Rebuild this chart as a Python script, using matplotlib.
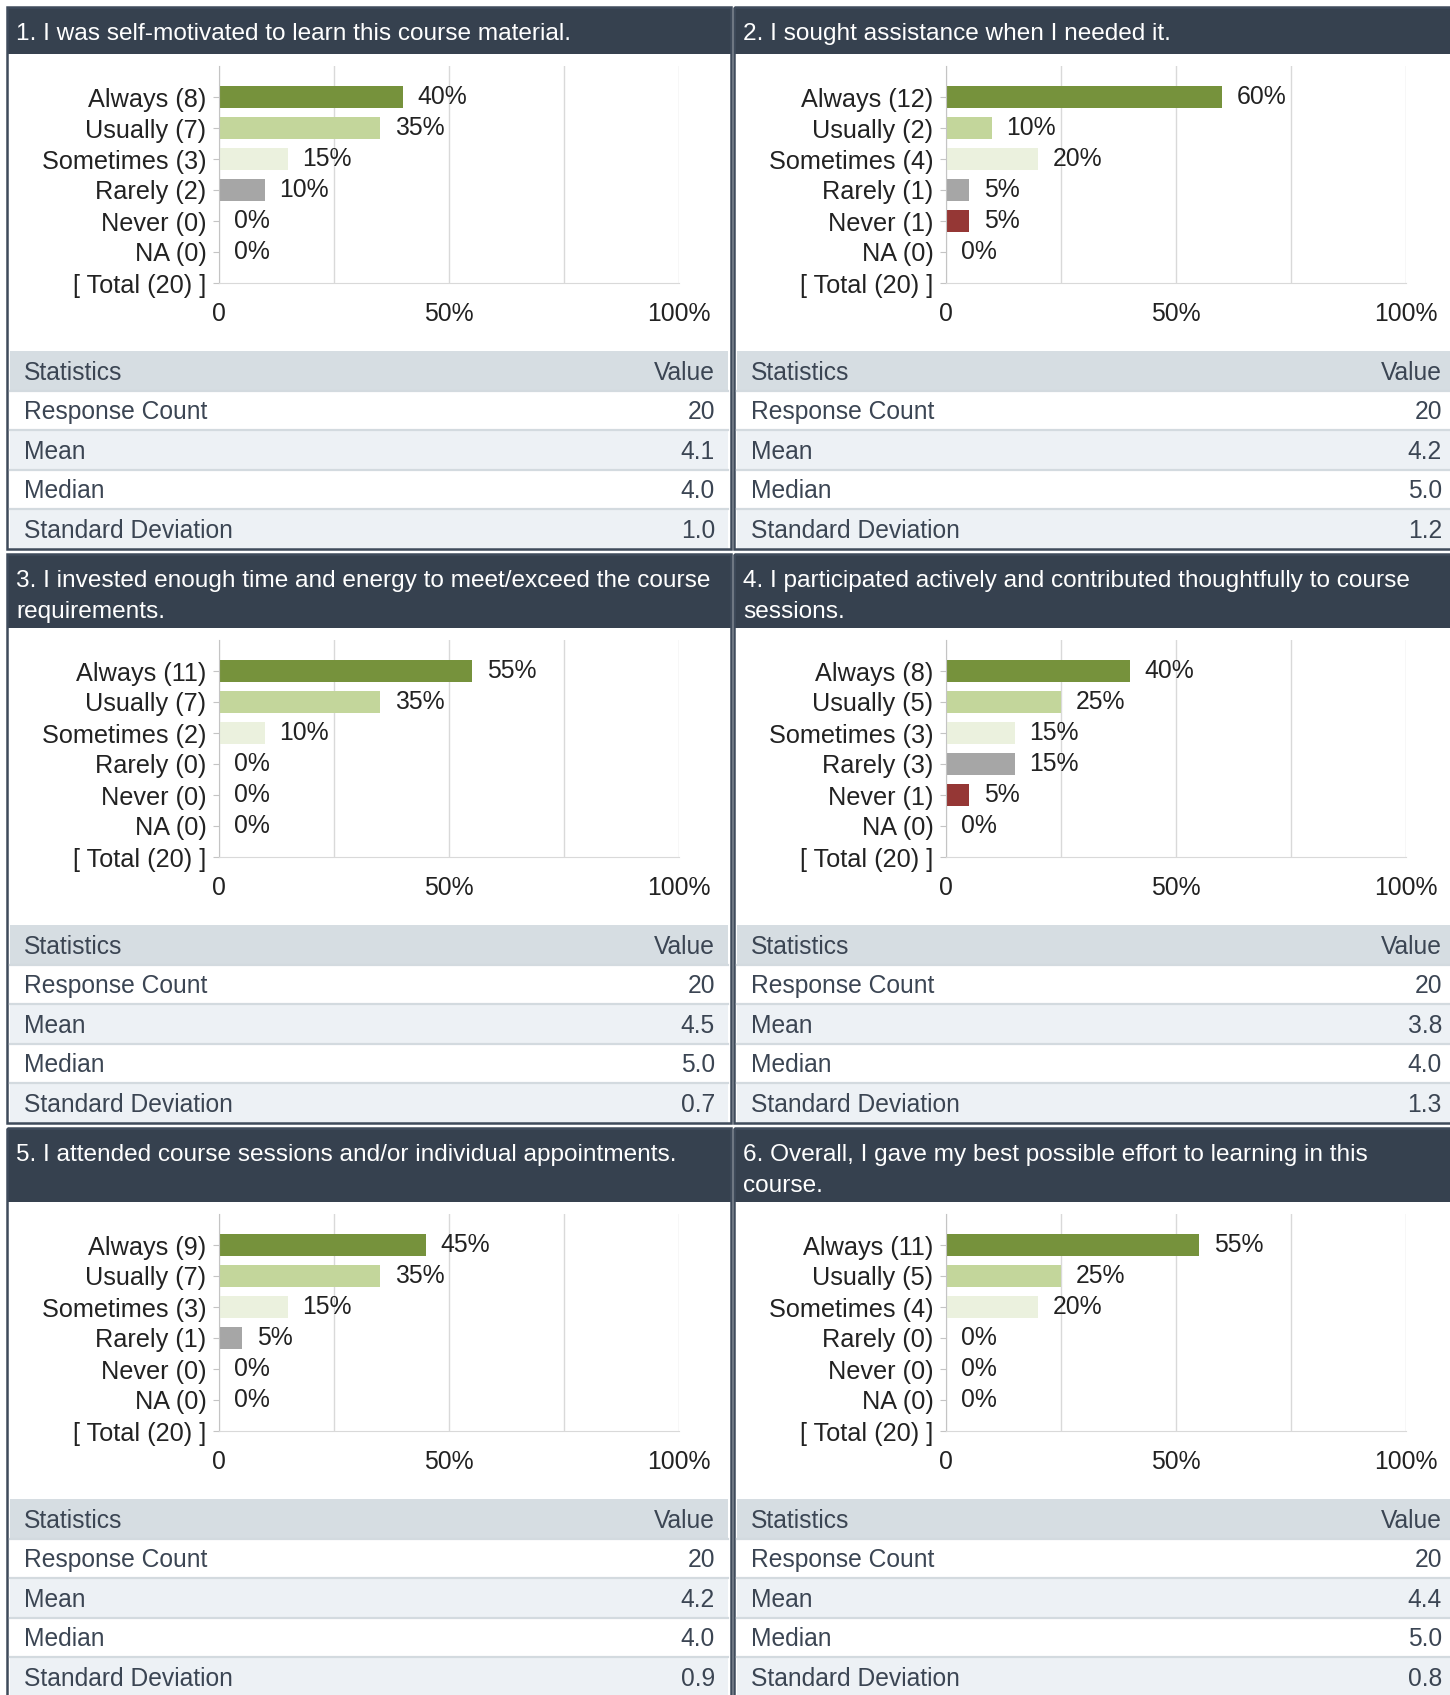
import matplotlib
matplotlib.use("Agg")
import matplotlib.pyplot as plt
from matplotlib.patches import Rectangle

plt.rcParams["font.family"] = ["Liberation Sans", "DejaVu Sans"]

# ---------------------------------------------------------
# Datos de la encuesta
# ---------------------------------------------------------
questions = [
    "1. I was self-motivated to learn this course material.",
    "2. I sought assistance when I needed it.",
    "3. I invested enough time and energy to meet/exceed the course\nrequirements.",
    "4. I participated actively and contributed thoughtfully to course\nsessions.",
    "5. I attended course sessions and/or individual appointments.",
    "6. Overall, I gave my best possible effort to learning in this\ncourse.",
]
answers = ["Always", "Usually", "Sometimes", "Rarely", "Never", "NA"]
counts = [
    [8, 7, 3, 2, 0, 0],
    [12, 2, 4, 1, 1, 0],
    [11, 7, 2, 0, 0, 0],
    [8, 5, 3, 3, 1, 0],
    [9, 7, 3, 1, 0, 0],
    [11, 5, 4, 0, 0, 0],
]
totals = [20, 20, 20, 20, 20, 20]
stat_names = ["Response Count", "Mean", "Median", "Standard Deviation"]
response_count = ["20", "20", "20", "20", "20", "20"]
means = ["4.1", "4.2", "4.5", "3.8", "4.2", "4.4"]
medians = ["4.0", "5.0", "5.0", "4.0", "4.0", "5.0"]
std_devs = ["1.0", "1.2", "0.7", "1.3", "0.9", "0.8"]

bar_colors = ["#76923c", "#c3d69b", "#ebf1de", "#a6a6a6", "#953735", "#4f81bd"]

# ---------------------------------------------------------
# Layout (pixeles)
# ---------------------------------------------------------
W, H = 1450, 1695
col_left = [7, 734]
panel_w = 724
row_top = [7, 554, 1128]
header_h = [47, 74, 74]
chart_h = 297
row_h = 39.5

HEADER_BG = "#36414f"
BORDER = "#3f4b5b"
TXT = "#3b4553"

fig = plt.figure(figsize=(W / 100, H / 100), dpi=100)
bg = fig.add_axes([0, 0, 1, 1])
bg.set_xlim(0, W)
bg.set_ylim(H, 0)
bg.axis("off")

for q in range(6):
    r, c = divmod(q, 2)
    pl = col_left[c]
    top = row_top[r]
    hb = top + header_h[r]
    tt = hb + chart_h
    bottom = tt + 5 * row_h

    # cabecera
    bg.add_patch(Rectangle((pl, top), panel_w, header_h[r], color=HEADER_BG, lw=0))
    for k, line in enumerate(questions[q].split("\n")):
        bg.text(pl + 9, top + 27 + 31 * k, line, color="white",
                fontsize=17.55, va="center", ha="left")

    # tabla de estadisticas
    rows = [("Statistics", "Value"),
            (stat_names[0], response_count[q]),
            (stat_names[1], means[q]),
            (stat_names[2], medians[q]),
            (stat_names[3], std_devs[q])]
    fills = ["#d6dde2", "#ffffff", "#edf1f5", "#ffffff", "#edf1f5"]
    for k, (name, val) in enumerate(rows):
        y0 = tt + k * row_h
        bg.add_patch(Rectangle((pl + 3, y0), panel_w - 6, row_h, color=fills[k], lw=0))
        if k > 0:
            bg.plot([pl + 3, pl + panel_w - 3], [y0, y0], color="#d3dadf", lw=1.6)
        bg.text(pl + 17, y0 + row_h / 2 + 2, name, color=TXT, fontsize=17.7,
                va="center", ha="left")
        bg.text(pl + 708, y0 + row_h / 2 + 2, val, color=TXT, fontsize=17.7,
                va="center", ha="right")

    # borde del panel
    bg.add_patch(Rectangle((pl, top), panel_w, bottom - top, fill=False,
                           edgecolor=BORDER, lw=1.8))

    # grafico de barras
    ax = fig.add_axes([(pl + 212) / W, 1 - (hb + 229) / H, 460 / W, 217 / H])
    pcts = [round(100 * n / totals[q]) for n in counts[q]]
    ax.barh(range(6), pcts, height=0.72, color=bar_colors, zorder=2)
    for i, p in enumerate(pcts):
        ax.annotate(f"{p}%", (p, i), xytext=(10.5, 0), textcoords="offset points",
                    va="center", ha="left", fontsize=17.8, color="#222222")
    labels = [f"{a} ({n})" for a, n in zip(answers, counts[q])]
    labels.append(f"[ Total ({totals[q]}) ]")
    ax.set_yticks(range(7))
    ax.set_yticklabels(labels)
    ax.set_ylim(6, -1)
    ax.set_xlim(0, 100)
    ax.set_xticks([0, 50, 100])
    ax.set_xticklabels(["0", "50%", "100%"])
    ax.set_xticks([25, 75], minor=True)
    ax.grid(axis="x", which="both", color="#d9d9d9", lw=1, zorder=0)
    ax.set_axisbelow(True)
    for s in ["top", "right"]:
        ax.spines[s].set_visible(False)
    ax.spines["left"].set_color("#c4c4c4")
    ax.spines["bottom"].set_color("#d9d9d9")
    ax.tick_params(axis="y", length=4, color="#c4c4c4", pad=5,
                   labelsize=18.2, labelcolor="#222222")
    ax.tick_params(axis="x", which="both", length=0, pad=13.5,
                   labelsize=17.8, labelcolor="#222222")
    for sp in ax.spines.values():
        sp.set_clip_on(False)
    ax.patch.set_alpha(0)

plt.savefig("out.png", dpi=100)
plt.close()
